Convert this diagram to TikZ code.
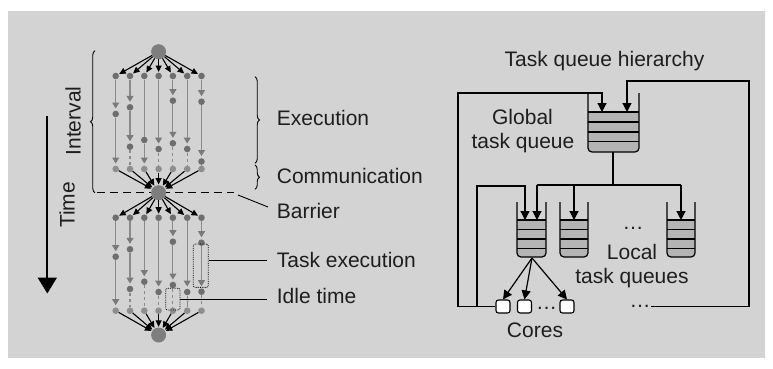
\documentclass[tikz,border=0pt]{standalone}
\usepackage{fontspec}
\setmainfont{Liberation Sans}
\usetikzlibrary{arrows.meta,decorations.pathreplacing}

\definecolor{ink}{HTML}{1E1E1E}
\definecolor{nodegray}{HTML}{6E6E6E}
\definecolor{nodelight}{HTML}{8E8E8E}
\definecolor{biggray}{HTML}{7E7E7E}
\definecolor{linegray}{HTML}{8A8A8A}
\definecolor{tipgray}{HTML}{7A7A7A}
\definecolor{qfill}{HTML}{B4B4B4}
\definecolor{bgside}{HTML}{D3D3D3}
\definecolor{bgmid}{HTML}{F2F2F2}

% queue: left, right, wall top, fill top, bottom, stripe list
\newcommand\drawqueue[6]{%
  \fill[qfill, rounded corners=4pt] (#1,#4) -- (#1,#5) -- (#2,#5) -- (#2,#4);
  \foreach \s in {#6} \draw[qline] (#1,\s) -- (#2,\s);
  \draw[qline, rounded corners=4pt] (#1,#3) -- (#1,#5) -- (#2,#5) -- (#2,#3);
}

\begin{document}
\begin{tikzpicture}[x=1pt,y=-1pt,
  txt/.style={font=\fontsize{21}{24}\selectfont, text=ink, inner sep=0pt},
  tn/.style={circle, fill=nodegray, inner sep=0pt, minimum size=6.6pt},
  tnl/.style={circle, fill=nodelight, inner sep=0pt, minimum size=6.6pt},
  big/.style={circle, fill=biggray, inner sep=0pt, minimum size=15pt},
  tk/.style={draw=linegray, line width=1.1pt, -{Triangle[length=6pt,width=7pt,color=tipgray]}, shorten >=2pt},
  idle/.style={draw=linegray, line width=1.1pt, dash pattern=on 3pt off 3pt},
  plain/.style={draw=linegray, line width=1.1pt},
  ba/.style={draw=black, line width=1.1pt, -{Triangle[length=6.5pt,width=6pt]}, shorten >=0.5pt},
  brc/.style={draw=black, line width=0.9pt, decorate, decoration={brace, amplitude=4.5pt}},
  dotbox/.style={draw=black, line width=0.8pt, densely dotted, rounded corners=2pt, inner sep=0pt},
  qline/.style={draw=black, line width=1.2pt},
  wire/.style={draw=black, line width=1.2pt},
  warr/.style={draw=black, line width=1.2pt, -{Triangle[length=9pt,width=9pt]}},
  core/.style={draw=black, fill=white, line width=1.1pt, rounded corners=2.5pt, minimum width=14pt, minimum height=13pt, inner sep=0pt},
  dots/.style={font=\fontsize{21}{24}\selectfont, text=ink, inner sep=0pt, anchor=base},
]
\useasboundingbox (0,0) rectangle (773,369);

% background panel
\shade[left color=bgside, middle color=bgmid, right color=bgside] (8,12) rectangle (765,357);

% ---------------- execution timeline ----------------
% barrier line (behind the barrier node)
\coordinate (barL) at (97,192.7);
\coordinate (barR) at (234,192.7);
\draw[black, line width=1.5pt, dash pattern=on 8pt off 5pt] (barL) -- (barR);

\node[big] (top) at (158.6,51.7) {};
\node[big] (bar) at (158.6,192.7) {};
\node[big] (bot) at (158.6,335) {};

\foreach \i/\x in {1/115.7,2/130,3/144.3,4/158.6,5/172.9,6/187.2,7/201.5} {
  \node[tn] (a\i) at (\x,76) {};
  \node[tnl] (b\i) at (\x,169) {};
  \node[tn] (c\i) at (\x,217.7) {};
  \node[tnl] (d\i) at (\x,310.7) {};
  \draw[ba] (top) -- (a\i);
  \draw[ba] (b\i) -- (bar);
  \draw[ba] (bar) -- (c\i);
  \draw[ba] (d\i) -- (bot);
}

% first interval
\node[tn] (p1a) at (115.7,114) {};
\draw[tk] (a1) -- (p1a); \draw[tk] (p1a) -- (b1);
\node[tn] (p2a) at (130,107.3) {}; \node[tn] (p2b) at (130,146.7) {};
\draw[tk] (a2) -- (p2a); \draw[tk] (p2a) -- (p2b); \draw[idle] (p2b) -- (b2);
\node[tn] (p3a) at (144.3,140) {};
\draw[plain] (a3) -- (p3a); \draw[tk] (p3a) -- (b3);
\node[tn] (p4a) at (158.6,149) {};
\draw[tk] (a4) -- (p4a); \draw[idle] (p4a) -- (b4);
\node[tn] (p5a) at (172.9,100.7) {}; \node[tn] (p5b) at (172.9,143.3) {};
\draw[tk] (a5) -- (p5a); \draw[tk] (p5a) -- (p5b); \draw[idle] (p5b) -- (b5);
\node[tn] (p6a) at (187.2,149) {};
\draw[tk] (a6) -- (p6a); \draw[idle] (p6a) -- (b6);
\node[tn] (p7a) at (201.5,101.7) {}; \node[tn] (p7b) at (201.5,161.5) {};
\draw[tk] (a7) -- (p7a); \draw[tk] (p7a) -- (p7b); \draw[plain] (p7b) -- (b7);

% second interval
\node[tn] (q1a) at (115.7,256.7) {};
\draw[tk] (c1) -- (q1a); \draw[tk] (q1a) -- (d1);
\node[tn] (q2a) at (130,249.3) {}; \node[tn] (q2b) at (130,289) {};
\draw[tk] (c2) -- (q2a); \draw[tk] (q2a) -- (q2b); \draw[idle] (q2b) -- (d2);
\node[tn] (q3a) at (144.3,281.7) {};
\draw[tk] (c3) -- (q3a); \draw[idle] (q3a) -- (d3);
\node[tn] (q4a) at (158.6,292) {};
\draw[tk] (c4) -- (q4a); \draw[idle] (q4a) -- (d4);
\node[tn] (q5a) at (172.9,241.7) {}; \node[tn] (q5b) at (172.9,285) {};
\draw[tk] (c5) -- (q5a); \draw[tk] (q5a) -- (q5b); \draw[idle] (q5b) -- (d5);
\node[tn] (q6a) at (187.2,292) {};
\draw[tk] (c6) -- (q6a); \draw[plain] (q6a) -- (d6);
\node[tn] (q7a) at (201.5,242.7) {}; \node[tn] (q7b) at (201.5,291.7) {};
\draw[tk] (c7) -- (q7a); \draw[tk] (q7a) -- (q7b); \draw[idle] (q7b) -- (d7);

% highlighted task and idle period
\node[dotbox, minimum width=15pt, minimum height=43.3pt] (tebox) at (200.8,265.7) {};
\node[dotbox, minimum width=14.3pt, minimum height=21.7pt] (idbox) at (172.85,299.15) {};

% braces
\draw[brc] (95,192.7) -- (95,50.7);
\draw[brc] (255,76.7) -- (255,163.3);
\draw[brc] (255,165) -- (255,189.3);

% time arrow
\coordinate (tA) at (47.3,116);
\coordinate (tB) at (47.3,293.5);
\draw[black, line width=2pt, -{Triangle[length=16pt,width=19pt]}] (tA) -- (tB);

\node[txt, rotate=90] (lint) at (73,121) {Interval};
\node[txt, rotate=90] (ltime) at (67,205) {Time};

% labels on the right of the timeline
\node[txt, anchor=west] (lexe) at (276.7,118.3) {Execution};
\node[txt, anchor=west] (lcom) at (276.7,176) {Communication};
\node[txt, anchor=west] (lbar) at (276.7,210.7) {Barrier};
\node[txt, anchor=west] (ltex) at (276.7,259.5) {Task execution};
\node[txt, anchor=west] (lidl) at (276.7,296) {Idle time};

\coordinate (barP1) at (238,195);
\coordinate (barP2) at (268,207);
\draw[black, line width=0.9pt] (barP1) -- (barP2);
\coordinate (teL) at (266.7,260.7);
\draw[black, line width=0.9pt] (tebox.east |- teL) -- (teL);
\coordinate (idL) at (266.7,299.2);
\draw[black, line width=0.9pt] (idbox.east |- idL) -- (idL);

% ---------------- task queue hierarchy ----------------
\node[txt] (lhier) at (604.5,61) {Task queue hierarchy};
\node[txt, align=center] (lglob1) at (522.5,117) {Global};
\node[txt, align=center] (lglob2) at (523,143) {task queue};
\node[txt] (lloc1) at (632,252) {Local};
\node[txt] (lloc2) at (632,278) {task queues};
\node[txt] (lcores) at (535,330) {Cores};
\node[dots] (ldq) at (633,229) {\dots};
\node[dots] (ldk) at (546.5,309) {\dots};
\node[dots] (ldr) at (640,307) {\dots};

% queues
\drawqueue{588}{639}{93}{112}{152}{112,122,132,141.5}
\drawqueue{517}{546}{202}{220}{257}{220,229.3,239,248.3}
\drawqueue{560}{588}{202}{220}{257}{220,229.3,239,248.3}
\drawqueue{667}{695}{202}{220}{257}{220,229.3,239,248.3}

% cores
\node[core] (k1) at (503,306.5) {};
\node[core] (k2) at (524.5,306.5) {};
\node[core] (k3) at (567,306.5) {};

% global queue to local queues
\coordinate (gOut) at (613,152);
\coordinate (gJ) at (613,185);
\coordinate (hL) at (537,185);
\coordinate (hR) at (681,185);
\coordinate (in1) at (537,220);
\coordinate (in1b) at (525,220);
\coordinate (in2) at (574,220);
\coordinate (in3) at (681,220);
\draw[wire] (gOut) -- (gJ);
\draw[wire] (hL) -- (hR);
\draw[warr] (hL) -- (in1);
\draw[warr] (in2 |- hL) -- (in2);
\draw[warr] (hR) -- (in3);

% local queue to cores
\coordinate (lOut) at (532,258);
\draw[warr] (lOut) -- (k1.north);
\draw[warr] (lOut) -- (k2.north);
\draw[warr] (lOut) -- (k3.north);

% feedback from the cores
\coordinate (gIn1) at (602,112);
\coordinate (gIn2) at (627,112);
\draw[warr] (k1.west) -| (458,93) -| (gIn1);
\draw[warr] (477,306.5) |- (525,186) -- (in1b);
\coordinate (fbR) at (651,306.5);
\draw[warr] (fbR) -| (749,81) -| (gIn2);

\end{tikzpicture}
\end{document}
